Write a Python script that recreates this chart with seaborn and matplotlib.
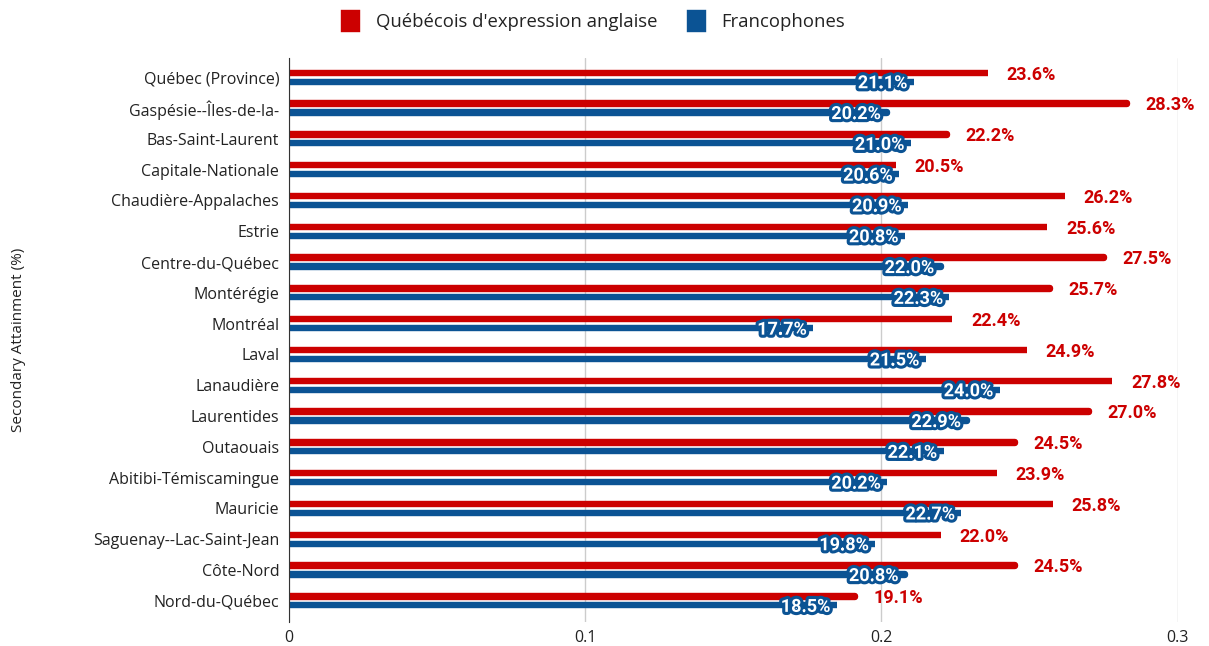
import pandas as pd
import matplotlib.pyplot as plt
import matplotlib.patheffects as pe
import seaborn as sns

# Data
regions = ['Québec (Province)', 'Gaspésie--Îles-de-la-', 'Bas-Saint-Laurent', 'Capitale-Nationale',
           'Chaudière-Appalaches', 'Estrie', 'Centre-du-Québec', 'Montérégie', 'Montréal', 'Laval',
           'Lanaudière', 'Laurentides', 'Outaouais', 'Abitibi-Témiscamingue', 'Mauricie',
           'Saguenay--Lac-Saint-Jean', 'Côte-Nord', 'Nord-du-Québec']
anglo = [0.236, 0.283, 0.222, 0.205, 0.262, 0.256, 0.275, 0.257, 0.224, 0.249,
         0.278, 0.270, 0.245, 0.239, 0.258, 0.220, 0.245, 0.191]
franco = [0.211, 0.202, 0.210, 0.206, 0.209, 0.208, 0.220, 0.223, 0.177, 0.215,
          0.240, 0.229, 0.221, 0.202, 0.227, 0.198, 0.208, 0.185]
series_names = ["Québécois d'expression anglaise", 'Francophones']
colors = ['#CC0000', '#0B5394']

df = pd.DataFrame({
    'Region': regions * 2,
    'Value': anglo + franco,
    'Group': [series_names[0]] * len(regions) + [series_names[1]] * len(regions),
})

sns.set_style('white')
plt.rcParams['font.family'] = ['Open Sans', 'DejaVu Sans']

fig = plt.figure(figsize=(12.09, 6.46), dpi=100)
ax = fig.add_axes([0.239, 0.037, 0.735, 0.873])

sns.barplot(data=df, y='Region', x='Value', hue='Group', palette=colors, orient='h',
            width=0.58, gap=0.97, saturation=1, ax=ax, legend=True)

# thin bars stroked thick with round joins -> capsule-shaped bars
for patch in ax.patches:
    patch.set_edgecolor(patch.get_facecolor())
    patch.set_linewidth(4.6)
    patch.set_joinstyle('round')

ax.set_xlim(0, 0.3)
ax.set_ylim(17.69, -0.62)
ax.set_xticks([0, 0.1, 0.2, 0.3])
ax.set_xticklabels(['0', '0.1', '0.2', '0.3'])
ax.grid(axis='x', color='#CCCCCC', linewidth=1)
ax.set_axisbelow(True)
for s in ['top', 'right', 'bottom']:
    ax.spines[s].set_visible(False)
ax.spines['left'].set_color('#333333')
ax.tick_params(axis='both', length=0, labelsize=11.5, labelcolor='#222222')
ax.tick_params(axis='y', pad=7)
ax.tick_params(axis='x', pad=6)
ax.set_xlabel('')
ax.set_ylabel('Secondary Attainment (%)', fontsize=11, color='#222222')
ax.yaxis.set_label_coords(-0.296, 0.5)

# value labels
off = 0.145
for i, (a, f) in enumerate(zip(anglo, franco)):
    ax.text(a + 0.0063, i - off + 0.06, f'{a * 100:.1f}%', color=colors[0], fontsize=13,
            fontweight='bold', family='Roboto', va='center', ha='left')
    ax.text(f - 0.0022, i + off + 0.05, f'{f * 100:.1f}%', color='white', fontsize=13,
            fontweight='bold', family='Roboto', va='center', ha='right',
            path_effects=[pe.withStroke(linewidth=4.5, foreground=colors[1])])

handles, labels = ax.get_legend_handles_labels()
ax.legend_.remove()
fig.legend(handles, labels, loc='upper center', bbox_to_anchor=(0.492, 1.005), ncol=2,
           frameon=False, fontsize=13.3, handlelength=0.7, handleheight=0.9,
           columnspacing=1.8, handletextpad=1.0, labelcolor='#222222')

plt.savefig('out.png', dpi=100)
